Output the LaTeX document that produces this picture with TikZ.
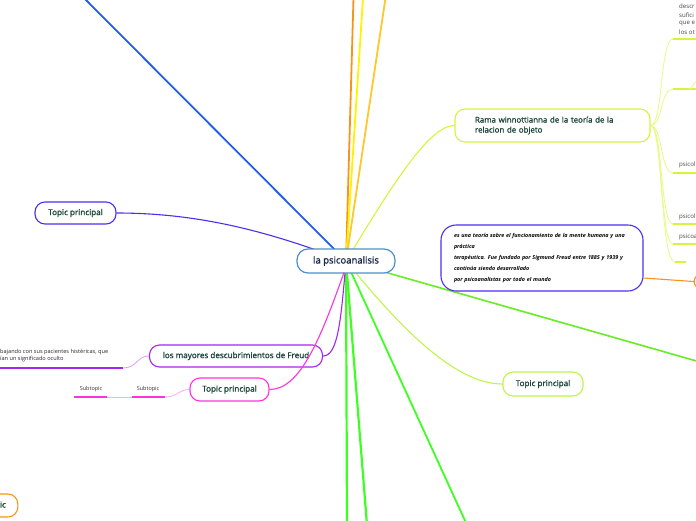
\documentclass[tikz,border=0pt]{standalone}
\usepackage{fontspec}
\setmainfont{Open Sans}
\newfontfamily\lblfont{Open Sans}[FakeBold=1.4]
\usetikzlibrary{backgrounds,calc}
\definecolor{cblue}{HTML}{4D8FCC}
\definecolor{blueline}{HTML}{1F5FE8}
\definecolor{corange}{HTML}{F7941D}
\definecolor{cyellow}{HTML}{FFF200}
\definecolor{cgold}{HTML}{FFC72C}
\definecolor{ygreen}{HTML}{D4F53A}
\definecolor{ygreenl}{HTML}{E6FA85}
\definecolor{violet}{HTML}{4F2DF0}
\definecolor{cgreen}{HTML}{3DFF22}
\definecolor{rgreen}{HTML}{66EE22}
\definecolor{lgreen}{HTML}{BDF548}
\definecolor{cpurple}{HTML}{A425F0}
\definecolor{lpurple}{HTML}{D9A0F8}
\definecolor{cmagenta}{HTML}{FF33DD}
\definecolor{lpink}{HTML}{FFAAF0}
\definecolor{navy}{HTML}{1A2A4A}
\definecolor{dkgreen}{HTML}{1B4638}
\definecolor{fragtxt}{HTML}{444444}
\begin{document}
\begin{tikzpicture}[x=1pt,y=-1pt,
  centerbox/.style={draw=cblue, line width=1.2pt, fill=white, rounded corners=11pt,
    minimum width=98pt, minimum height=24pt, text=navy,
    font=\lblfont\fontsize{9.5}{11}\selectfont},
  tbox/.style={fill=white, line width=1.1pt, rounded corners=10pt, minimum height=22pt,
    text=dkgreen, inner xsep=12pt, font=\lblfont\fontsize{8.1}{9}\selectfont},
  frag/.style={anchor=west, inner sep=0pt, text=fragtxt, font=\fontsize{6.1}{7}\selectfont},
  subt/.style={inner sep=0pt, text=black!80, font=\fontsize{5.5}{6}\selectfont},
  thickline/.style={line width=1.8pt},
  branch/.style={line width=1.1pt},
  uline/.style={line width=1.5pt},
  thin/.style={line width=0.8pt}
]
\useasboundingbox (0,0) rectangle (696,520);
\clip (0,0) rectangle (696,520);

% nodes
\node[centerbox] (c) at (346,261) {la psicoanalisis};
\node[tbox, draw=violet, minimum width=81pt] (t1) at (75.5,213) {Topic principal};
\node[tbox, draw=cpurple, minimum width=173pt] (fr) at (236,356) {los mayores descubrimientos de Freud};
\node[tbox, draw=cmagenta, minimum width=79pt, minimum height=23pt] (t2) at (229.5,389.5) {Topic principal};
\node[tbox, draw=lgreen, minimum width=80pt, minimum height=24pt] (t3) at (543,384) {Topic principal};
\node[tbox, draw=ygreen, minimum height=33pt, text width=155pt, align=left, inner xsep=20pt,
  font=\lblfont\fontsize{7.9}{10}\selectfont] (rama) at (552.5,125.5)
  {Rama winnottianna de la teoría de la\\relacion de objeto};
\node[draw=violet, line width=1.1pt, fill=white, rounded corners=15pt,
  minimum width=202pt, minimum height=66pt, text width=176pt, inner xsep=13pt, align=left,
  font=\bfseries\itshape\fontsize{5.4}{11.2}\selectfont, text=black] (desc) at (542,258)
  {es una teoría sobre el funcionamiento de la mente humana y una\\
   práctica\\
   terapéutica. Fue fundado por Sigmund Freud entre 1885 y 1939 y\\
   continúa siendo desarrollado\\
   por psicoanalistas por todo el mundo};
\node[tbox, draw=corange, minimum width=92pt, minimum height=18pt] (or1) at (740,281.5) {};
\node[tbox, draw=corange, minimum height=23pt] (or2) at (-4,505.5) {Topic};

% texts of subtopics
\node[frag, text=black!85, font=\fontsize{5.6}{7.3}\selectfont, align=left] (ft) at (0,355.5)
  {bajando con sus pacientes histéricas, que\\ían un significado oculto};
\node[subt] (st1) at (91,389) {Subtopic};
\node[subt] (st2) at (148,389) {Subtopic};
\node[frag] (d1) at (679,6) {descr};
\node[frag] (d2) at (679,15) {sufici};
\node[frag] (d3) at (679,24) {que e};
\node[frag] (d4) at (679,32.5) {los ot};
\node[frag] (p1) at (679,165) {psicol};
\node[frag] (p2) at (679,217) {psicol};
\node[frag] (p3) at (679,237) {psicoa};

% coordinates for free ends
\coordinate (e1) at (84,-2);
\coordinate (e2) at (353.5,-2);
\coordinate (e3) at (363,-2);
\coordinate (e4) at (385.5,-2);
\coordinate (e5) at (700,362);
\coordinate (g1) at (347,525);
\coordinate (g2) at (367,525);
\coordinate (g3) at (467,525);
\coordinate (fl0) at (-2,368);
\coordinate (fl1) at (123,368);
\coordinate (s0) at (74,397);
\coordinate (s1) at (107,397);
\coordinate (s2) at (132,397);
\coordinate (s3) at (165,397);
\coordinate (cm) at (344,272.5);

\begin{scope}[on background layer]
  \draw[thickline, blueline] (e1) -- (c.center);
  \draw[thickline, corange] (e2) -- (c.center);
  \draw[thickline, cyellow] (e3) -- (c.center);
  \draw[thickline, cgold] (e4) -- (c.center);
  \draw[branch, ygreen] (c.center) .. controls (395,180) and (430,125.5) .. (rama.west);
  \draw[branch, violet] (c.center) .. controls (270,232) and (200,213) .. (t1.east);
  \draw[line width=1.6pt, rgreen] (c.center) -- (e5);
  \draw[line width=2.2pt, cgreen] (c.center) -- (g1);
  \draw[line width=2.2pt, cgreen] (c.center) -- (g2);
  \draw[line width=1.8pt, cgreen] (c.center) -- (g3);
  \draw[branch, lgreen] (c.center) .. controls (410,340) and (460,384) .. (t3.west);
  \draw[branch, cpurple] (c.center) .. controls (341,320) and (338,356) .. (fr.east);
  \draw[branch, corange] (desc.east |- 0,278) -- (or1.west);
  \draw[branch, cmagenta] (c.center) -- (cm);
\end{scope}
% magenta crosses over the Freud node
\draw[branch, cmagenta] (cm) .. controls (320,340) and (300,389.5) .. (t2.east);

% Freud subtopic
\draw[uline, cpurple] (fl0) -- (fl1);
\draw[thin, lpurple] (fl1) .. controls (137,368) and (137,356) .. (fr.west);
% magenta subtopics
\draw[uline, cmagenta] (s0) -- (s1);
\draw[thin, lpink] (s1) -- (s2);
\draw[uline, cmagenta] (s2) -- (s3);
\draw[thin, lpink] (s3) .. controls (178,397) and (178,389.5) .. (t2.west);

% Rama subtopics
\foreach \yy/\nm in {39/r1, 89/r2, 173/r3, 224/r4, 244/r5} {
  \coordinate (\nm) at (673,\yy);
  \draw[thin, ygreenl] (rama.east) .. controls (663,125.5) and (660,\yy) .. (\nm);
  \draw[uline, ygreen] (\nm) -- (697,\yy);
}
\coordinate (r6) at (675,262);
\coordinate (r6e) at (686,262);
\draw[thin, ygreenl] (rama.east) .. controls (663,125.5) and (660,262) .. (r6);
\draw[uline, ygreen] (r6) -- (r6e);
\coordinate (r2b) at (697,81);
\draw[thin, ygreenl] (689,89) .. controls (693,89) and (693,82) .. (r2b);
\end{tikzpicture}
\end{document}
